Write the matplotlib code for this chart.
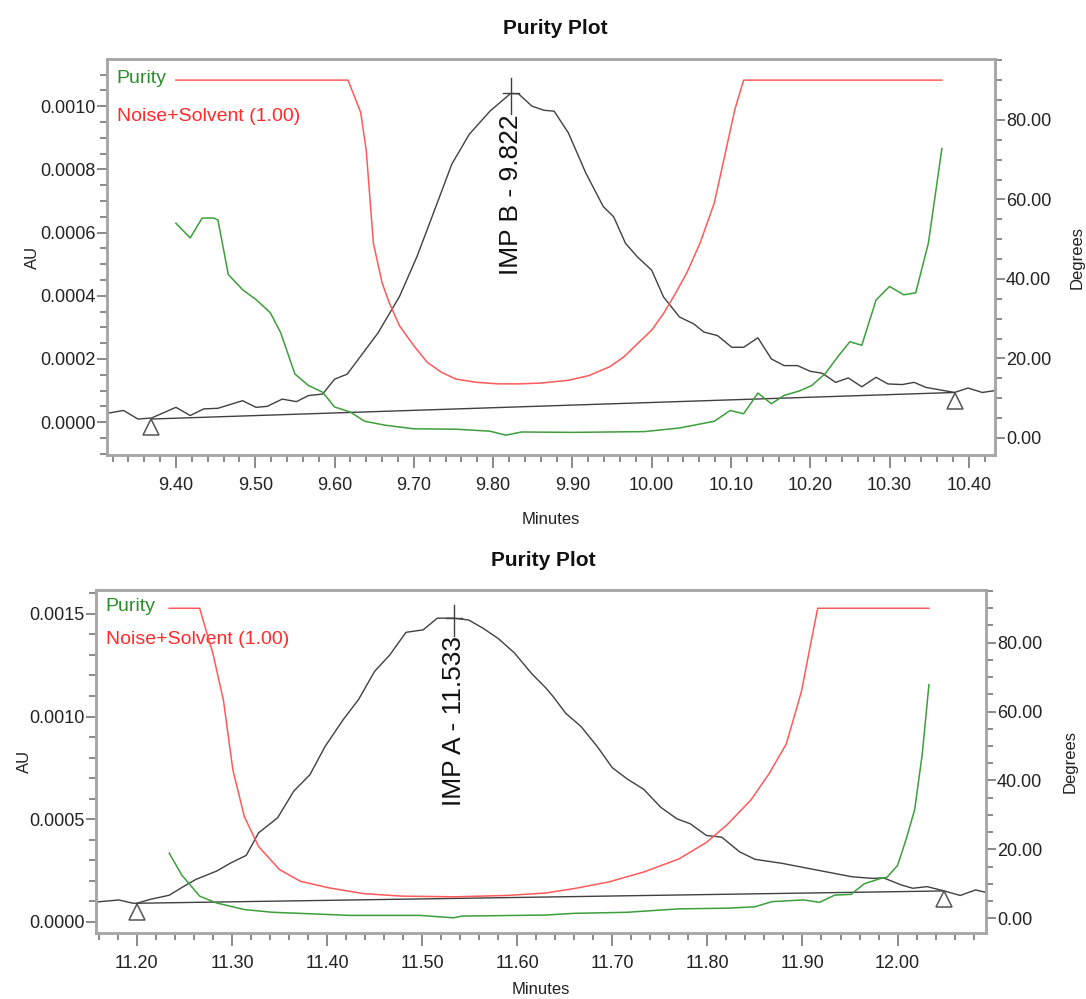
import matplotlib
matplotlib.use("Agg")
import matplotlib.pyplot as plt
from matplotlib.ticker import MultipleLocator, FormatStrFormatter
from matplotlib.transforms import offset_copy

plt.rcParams['font.family'] = ['Liberation Sans', 'DejaVu Sans']

# ---- top plot: IMP B ----
top_min = [9.313, 9.334, 9.352, 9.369, 9.400, 9.418, 9.435, 9.453, 9.484, 9.501,
           9.515, 9.534, 9.552, 9.567, 9.585, 9.600, 9.616, 9.633, 9.655, 9.682,
           9.704, 9.726, 9.748, 9.770, 9.796, 9.822, 9.832, 9.849, 9.864, 9.877,
           9.895, 9.917, 9.939, 9.952, 9.967, 9.982, 10.000, 10.015, 10.035, 10.053,
           10.066, 10.083, 10.101, 10.116, 10.134, 10.151, 10.167, 10.184, 10.200, 10.215,
           10.232, 10.248, 10.265, 10.283, 10.298, 10.316, 10.331, 10.346, 10.364, 10.382,
           10.399, 10.417, 10.433]
top_au = [0.28, 0.37, 0.10, 0.13, 0.47, 0.21, 0.42, 0.44, 0.68, 0.47,
          0.50, 0.73, 0.65, 0.84, 0.89, 1.36, 1.52, 2.09, 2.83, 3.98,
          5.24, 6.70, 8.17, 9.11, 9.84, 10.40, 10.39, 10.00, 9.87, 9.84,
          9.15, 7.88, 6.82, 6.50, 5.66, 5.23, 4.81, 3.96, 3.33, 3.11,
          2.85, 2.74, 2.37, 2.37, 2.67, 2.00, 1.79, 1.79, 1.61, 1.55,
          1.26, 1.40, 1.12, 1.42, 1.21, 1.19, 1.26, 1.10, 1.02, 0.94,
          1.08, 0.94, 1.00]  # x 1e-4 AU
top_base_min = [9.369, 10.382]
top_base_au = [0.10, 0.94]

top_pur_min = [9.400, 9.418, 9.433, 9.448, 9.453, 9.466, 9.484, 9.501, 9.519, 9.532,
               9.550, 9.567, 9.585, 9.600, 9.620, 9.638, 9.664, 9.700, 9.753, 9.796,
               9.816, 9.836, 9.900, 9.991, 10.035, 10.079, 10.099, 10.116, 10.134, 10.151,
               10.167, 10.186, 10.202, 10.219, 10.235, 10.250, 10.265, 10.283, 10.300, 10.318,
               10.333, 10.349, 10.366]
top_pur_deg = [54.0, 50.3, 55.3, 55.3, 54.8, 41.1, 37.3, 34.8, 31.5, 26.5,
               16.1, 13.2, 11.5, 7.8, 6.5, 4.2, 3.2, 2.3, 2.2, 1.7,
               0.7, 1.5, 1.4, 1.6, 2.5, 4.2, 6.9, 6.1, 11.3, 8.6,
               10.7, 11.8, 13.2, 16.2, 20.5, 24.2, 23.3, 34.7, 38.1, 36.0,
               36.5, 49.0, 72.8]

top_noise_min = [9.400, 9.617, 9.633, 9.640, 9.649, 9.660, 9.669, 9.682, 9.700, 9.717,
                 9.735, 9.753, 9.779, 9.806, 9.832, 9.860, 9.895, 9.921, 9.947, 9.965,
                 9.982, 10.000, 10.015, 10.029, 10.044, 10.061, 10.079, 10.092, 10.105, 10.116,
                 10.366]
top_noise_deg = [90, 90, 81.9, 72.3, 49.0, 39.0, 34.0, 28.2, 23.2, 19.0,
                 16.5, 14.8, 14.0, 13.6, 13.6, 13.8, 14.5, 15.7, 17.9, 20.4,
                 23.7, 27.1, 31.3, 36.0, 41.4, 49.0, 59.1, 70.9, 82.7, 90,
                 90]

# ---- bottom plot: IMP A ----
bot_min = [11.157, 11.181, 11.196, 11.200, 11.214, 11.234, 11.247, 11.262, 11.284, 11.299,
           11.315, 11.328, 11.348, 11.365, 11.382, 11.398, 11.417, 11.433, 11.450, 11.466,
           11.483, 11.501, 11.516, 11.533, 11.549, 11.564, 11.580, 11.597, 11.615, 11.630,
           11.638, 11.651, 11.667, 11.684, 11.700, 11.716, 11.733, 11.751, 11.768, 11.782,
           11.799, 11.815, 11.834, 11.850, 11.879, 11.916, 11.952, 11.974, 11.985, 12.004,
           12.016, 12.031, 12.049, 12.066, 12.082, 12.092]
bot_au = [0.97, 1.07, 0.91, 0.91, 1.10, 1.30, 1.67, 2.07, 2.48, 2.88,
          3.24, 4.34, 5.07, 6.37, 7.17, 8.55, 9.85, 10.82, 12.20, 13.00,
          14.10, 14.22, 14.79, 14.79, 14.70, 14.30, 13.80, 13.10, 12.10, 11.40,
          10.96, 10.16, 9.52, 8.55, 7.51, 6.95, 6.46, 5.58, 5.02, 4.78,
          4.21, 4.13, 3.41, 3.05, 2.85, 2.52, 2.20, 2.12, 2.15, 1.80,
          1.64, 1.72, 1.51, 1.29, 1.56, 1.45]  # x 1e-4 AU
bot_base_min = [11.200, 12.049]
bot_base_au = [0.91, 1.51]

bot_pur_min = [11.234, 11.247, 11.266, 11.284, 11.313, 11.343, 11.376, 11.424, 11.498, 11.533,
               11.542, 11.630, 11.660, 11.715, 11.770, 11.821, 11.850, 11.868, 11.901, 11.918,
               11.934, 11.951, 11.965, 11.982, 11.989, 12.000, 12.009, 12.018, 12.026, 12.033]
bot_pur_deg = [18.9, 12.6, 6.4, 4.4, 2.5, 1.7, 1.35, 0.8, 0.8, 0.1,
               0.6, 0.9, 1.4, 1.7, 2.7, 2.9, 3.3, 4.8, 5.3, 4.6,
               6.7, 6.9, 10.0, 11.5, 11.9, 15.3, 22.9, 31.5, 47.7, 67.8]

bot_noise_min = [11.234, 11.266, 11.280, 11.291, 11.301, 11.313, 11.328, 11.350, 11.372, 11.402,
                 11.439, 11.479, 11.534, 11.590, 11.630, 11.660, 11.696, 11.733, 11.770, 11.799,
                 11.821, 11.846, 11.865, 11.883, 11.899, 11.909, 11.916, 12.033]
bot_noise_deg = [90, 90, 76.8, 63.3, 43.0, 29.5, 20.8, 14.1, 10.7, 8.8,
                 7.1, 6.4, 6.2, 6.6, 7.3, 8.6, 10.5, 13.4, 17.2, 22.0,
                 27.2, 34.4, 42.0, 50.6, 65.9, 80.2, 90, 90]

SPINE = '#a6a6a6'
TXT = '#222222'
GREEN = '#3c9f3c'
RED = '#ff5a5a'
TRACE = '#404040'

fig = plt.figure(figsize=(10.86, 9.99), dpi=100)


def style_axes(ax, ax2, xlim, aulim, au_major, au_minor, lab_pos):
    ax.set_xlim(*xlim)
    ax.set_ylim(*aulim)
    ax2.set_ylim(-4.3, 95.3)
    ax.xaxis.set_major_locator(MultipleLocator(0.1))
    ax.xaxis.set_minor_locator(MultipleLocator(0.02))
    ax.xaxis.set_major_formatter(FormatStrFormatter('%.2f'))
    ax.yaxis.set_major_locator(MultipleLocator(au_major))
    ax.yaxis.set_minor_locator(MultipleLocator(au_minor))
    ax.yaxis.set_major_formatter(FormatStrFormatter('%.4f'))
    ax2.yaxis.set_major_locator(MultipleLocator(20))
    ax2.yaxis.set_minor_locator(MultipleLocator(5))
    ax2.yaxis.set_major_formatter(FormatStrFormatter('%.2f'))
    for a in (ax, ax2):
        for s in a.spines.values():
            s.set_color(SPINE)
            s.set_linewidth(1.8)
        a.tick_params(which='both', color='#777777', width=1.2, labelsize=13,
                      labelcolor=TXT, direction='out')
        a.tick_params(which='minor', length=5)
    ax.tick_params(axis='x', which='major', length=9, pad=7)
    ax.tick_params(axis='y', which='major', length=7, pad=1)
    ax2.tick_params(axis='y', which='major', length=7, pad=1)
    ax.set_xlabel('Minutes', fontsize=12, color=TXT)
    ax.set_ylabel('AU', fontsize=12, color=TXT)
    ax2.set_ylabel('Degrees', fontsize=12, color=TXT)
    # put axis titles where the reference has them
    ax.xaxis.set_label_coords(0.5, lab_pos[0])
    ax.yaxis.set_label_coords(lab_pos[1], 0.5)
    ax2.yaxis.set_label_coords(lab_pos[2], 0.5)


def draw_panel(rect, t, au, base_t, base_au, pur_t, pur_d, noise_t, noise_d,
               peak_t, peak_au, cross_top, label_top, label, xlim, aulim,
               au_major, au_minor, lab_pos):
    ax = fig.add_axes(rect)
    ax2 = ax.twinx()
    au = [v * 1e-4 for v in au]
    base_au = [v * 1e-4 for v in base_au]

    ax.plot(t, au, color=TRACE, lw=1.0)
    ax.plot(base_t, base_au, color=TRACE, lw=1.0)
    # baseline start/end markers
    tri = offset_copy(ax.transData, fig=fig, y=-6, units='points')
    ax.plot(base_t, base_au, ls='none', marker='^', ms=12, mfc='white',
            mec='#555555', mew=1.1, transform=tri, clip_on=False)

    # apex cross and label
    dx = (xlim[1] - xlim[0]) * 0.009
    ax.plot([peak_t, peak_t], [label_top, cross_top], color=TRACE, lw=1.0)
    ax.plot([peak_t - dx, peak_t + dx], [peak_au, peak_au], color=TRACE, lw=1.0)
    ax.text(peak_t, label_top, label, rotation=90, ha='center', va='top',
            fontsize=19, color='#111111')

    ax2.plot(pur_t, pur_d, color=GREEN, lw=1.1)
    ax2.plot(noise_t, noise_d, color=RED, lw=1.1)

    ax.text(0.011, 0.952, 'Purity', transform=ax.transAxes, color='#2a8f2a',
            fontsize=14, va='center', ha='left')
    ax.text(0.011, 0.856, 'Noise+Solvent (1.00)', transform=ax.transAxes,
            color='#ff2a2a', fontsize=14, va='center', ha='left')

    style_axes(ax, ax2, xlim, aulim, au_major, au_minor, lab_pos)
    return ax, ax2


draw_panel([0.0985, 0.5445, 0.8177, 0.3964], top_min, top_au, top_base_min, top_base_au,
           top_pur_min, top_pur_deg, top_noise_min, top_noise_deg,
           9.822, 1.040e-3, 1.09e-3, 9.75e-4, 'IMP B - 9.822',
           (9.313, 10.433), (-0.000104, 0.001149), 0.0002, 0.00005,
           (-0.144, -0.076, 1.0845))

draw_panel([0.0884, 0.0661, 0.8195, 0.3433], bot_min, bot_au, bot_base_min, bot_base_au,
           bot_pur_min, bot_pur_deg, bot_noise_min, bot_noise_deg,
           11.533, 1.479e-3, 1.545e-3, 1.39e-3, 'IMP A - 11.533',
           (11.157, 12.093), (-0.0000536, 0.001616), 0.0005, 0.0001,
           (-0.143, -0.072, 1.0865))

fig.text(0.511, 1 - 28 / 999, 'Purity Plot', ha='center', va='center',
         fontsize=15, fontweight='bold', color='#111111')
fig.text(0.5, 1 - 560 / 999, 'Purity Plot', ha='center', va='center',
         fontsize=15, fontweight='bold', color='#111111')

fig.savefig('out.png', dpi=100, facecolor='white')
